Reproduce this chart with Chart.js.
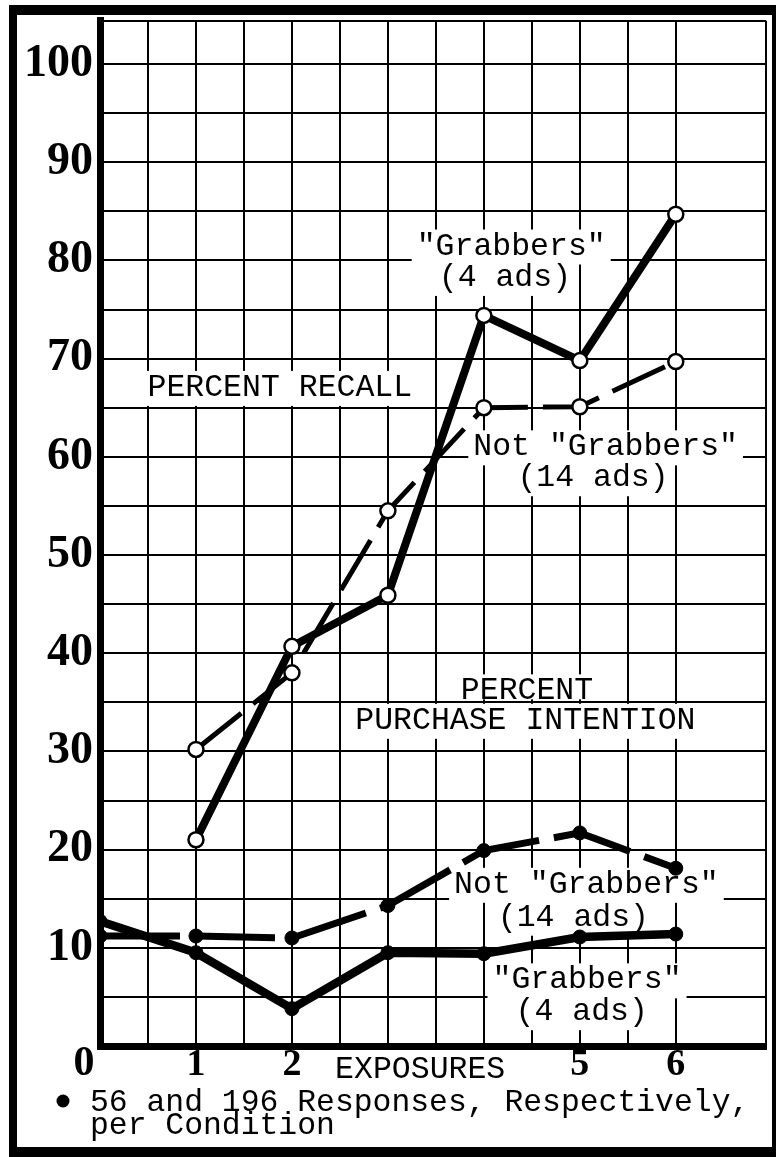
<!DOCTYPE html>
<html>
<head>
<meta charset="utf-8">
<title>Percent Recall and Purchase Intention by Exposures</title>
<script src="https://cdn.jsdelivr.net/npm/chart.js@4.4.1/dist/chart.umd.min.js"></script>
<style>
  html, body { margin: 0; padding: 0; background: #fff; }
  #wrap { position: relative; width: 776px; height: 1157px; }
</style>
</head>
<body>
<div id="wrap"><canvas id="chart"></canvas></div>
<script>
// values
const exposures = [0, 1, 2, 3, 4, 5, 6];
const recallGrabbers      = [null, 21, 40.7, 45.9, 74.4, 69.8, 84.7];
const recallNotGrabbers   = [null, 30.2, 38, 54.5, 65, 65.1, 69.7];
const purchaseNotGrabbers = [11.2, 11.2, 11, 14.3, 19.9, 21.7, 18.1];
const purchaseGrabbers    = [12.7, 9.5, 3.8, 9.5, 9.4, 11.1, 11.4];
const yTickLabels = [10, 20, 30, 40, 50, 60, 70, 80, 90, 100];
const xTickLabels = [1, 2, 5, 6];

const ink = '#000';
const MONO = '"Liberation Mono", "DejaVu Sans Mono", monospace';
const SERIF = '"Liberation Serif", "DejaVu Serif", serif';

// text written on the grid, anchored in data units (x = exposures, y = percent)
const notes = [
  { text: 'PERCENT RECALL',     x: 0.495, y: 66.2, below: 10 },
  { text: '"Grabbers"',         x: 3.30,  y: 80.6, below: 10 },
  { text: '(4 ads)',            x: 3.53,  y: 77.4, below: 10 },
  { text: 'Not "Grabbers"',     x: 3.89,  y: 60.15, below: 10 },
  { text: '(14 ads)',           x: 4.35,  y: 57.0, below: 10 },
  { text: 'PERCENT',            x: 3.76,  y: 35.3, below: 0 },
  { text: 'PURCHASE INTENTION', x: 2.66,  y: 32.3, below: 10 },
  { text: 'Not "Grabbers"',     x: 3.69,  y: 15.6, below: 10 },
  { text: '(14 ads)',           x: 4.145, y: 12.25, below: 10 },
  { text: '"Grabbers"',         x: 4.09,  y: 5.87, below: 10 },
  { text: '(4 ads)',            x: 4.33,  y: 2.63, below: 10 }
];

const toPoints = arr => exposures.map((e, i) => ({ x: e, y: arr[i] })).filter(p => p.y !== null);

const paperLabels = {
  id: 'paperLabels',
  beforeDatasetsDraw(chart) {
    const { ctx, scales: { x, y } } = chart;
    ctx.save();
    ctx.font = `31.5px ${MONO}`;
    ctx.textAlign = 'left';
    ctx.textBaseline = 'alphabetic';
    notes.forEach(n => {
      const px = x.getPixelForValue(n.x), py = y.getPixelForValue(n.y);
      const w = ctx.measureText(n.text).width;
      ctx.fillStyle = '#fff';
      ctx.fillRect(px - 5, py - 25, w + 10, 25 + n.below);
      ctx.fillStyle = ink;
      ctx.fillText(n.text, px, py);
    });
    ctx.restore();
  },
  afterDraw(chart) {
    const { ctx, scales: { x, y } } = chart;
    const x0 = x.getPixelForValue(0), y0 = y.getPixelForValue(0);
    ctx.save();
    ctx.fillStyle = ink;
    // heavy outer frame
    ctx.fillRect(9, 5, 8, 1152);
    ctx.fillRect(9, 5, 767, 10);
    ctx.fillRect(772, 5, 4, 1152);
    ctx.fillRect(9, 1147, 767, 10);
    // origin
    ctx.font = `bold 42px ${SERIF}`;
    ctx.textAlign = 'center';
    ctx.textBaseline = 'middle';
    ctx.fillText('0', x0 - 16, y0 + 18);
    // axis name between the ticks
    ctx.font = `31.5px ${MONO}`;
    ctx.textAlign = 'left';
    ctx.textBaseline = 'alphabetic';
    ctx.fillText('EXPOSURES', x.getPixelForValue(2.45), y0 + 32);
    // footnote
    ctx.font = `31.4px ${MONO}`;
    ctx.fillText('56 and 196 Responses, Respectively,', x0 - 10, y0 + 65);
    ctx.fillText('per Condition', x0 - 10, y0 + 88);
    ctx.beginPath();
    ctx.arc(x0 - 37, y0 + 55, 6.5, 0, Math.PI * 2);
    ctx.fill();
    ctx.restore();
  }
};

const openDot = { pointRadius: 7.5, pointBackgroundColor: '#fff', pointBorderColor: ink, pointBorderWidth: 2.5 };
const fullDot = { pointRadius: 7, pointBackgroundColor: ink, pointBorderColor: ink, pointBorderWidth: 1 };

new Chart(document.getElementById('chart'), {
  type: 'line',
  data: {
    datasets: [
      { label: 'Recall – "Grabbers" (4 ads)', data: toPoints(recallGrabbers),
        borderColor: ink, borderWidth: 8, ...openDot },
      { label: 'Recall – Not "Grabbers" (14 ads)', data: toPoints(recallNotGrabbers),
        borderColor: ink, borderWidth: 5, borderDash: [58, 15], ...openDot },
      { label: 'Purchase intention – Not "Grabbers" (14 ads)', data: toPoints(purchaseNotGrabbers),
        borderColor: ink, borderWidth: 7, borderDash: [80, 15], ...fullDot },
      { label: 'Purchase intention – "Grabbers" (4 ads)', data: toPoints(purchaseGrabbers),
        borderColor: ink, borderWidth: 8.5, ...fullDot }
    ]
  },
  options: {
    responsive: true,
    maintainAspectRatio: false,
    animation: false,
    devicePixelRatio: 1,
    layout: { padding: { top: 15, right: 3, left: 0, bottom: 0 } },
    plugins: { legend: { display: false }, tooltip: { enabled: false } },
    elements: { line: { tension: 0, fill: false } },
    scales: {
      x: {
        type: 'linear', min: 0, max: 6.94,
        afterFit: s => { s.height = 111; },
        grid: { color: ink, lineWidth: 2, drawTicks: false },
        border: { color: ink, width: 7 },
        ticks: {
          stepSize: 0.5, autoSkip: false, maxRotation: 0, padding: 0, color: ink,
          font: { family: SERIF, size: 38, weight: 'bold', lineHeight: 1 },
          callback: v => xTickLabels.includes(v) ? String(v) : ''
        }
      },
      y: {
        min: 0, max: 104.4,
        afterFit: s => { s.width = 100; },
        grid: { color: ink, lineWidth: 2, drawTicks: false },
        border: { color: ink, width: 7 },
        ticks: {
          stepSize: 5, autoSkip: false, padding: 7, color: ink,
          font: { family: SERIF, size: 46, weight: 'bold', lineHeight: 0.6 },
          callback: v => yTickLabels.includes(v) ? String(v) : ''
        }
      }
    }
  },
  plugins: [paperLabels]
});
</script>
</body>
</html>
